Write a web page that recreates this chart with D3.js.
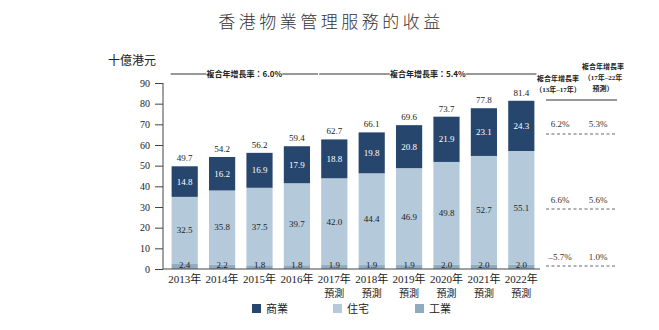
<!DOCTYPE html>
<html>
<head>
<meta charset="utf-8">
<script src="https://cdn.jsdelivr.net/npm/d3@7"></script>
<style>
body { margin: 0; background: #fff; }
svg text { font-family: "Liberation Serif", "Noto Sans CJK TC", serif; }
.cjk { font-family: "Noto Sans CJK TC", sans-serif; }
</style>
</head>
<body>
<div id="chart"></div>
<script>
var years = ["2013年","2014年","2015年","2016年","2017年","2018年","2019年","2020年","2021年","2022年"];
var forecast = [false,false,false,false,true,true,true,true,true,true];
var industrial = [2.4,2.2,1.8,1.8,1.9,1.9,1.9,2.0,2.0,2.0];
var residential = [32.5,35.8,37.5,39.7,42.0,44.4,46.9,49.8,52.7,55.1];
var commercial = [14.8,16.2,16.9,17.9,18.8,19.8,20.8,21.9,23.1,24.3];
var totals = [49.7,54.2,56.2,59.4,62.7,66.1,69.6,73.7,77.8,81.4];
var yTicks = [0,10,20,30,40,50,60,70,80,90];
var seriesNames = ["商業","住宅","工業"];
var cagr1317 = ["6.2%","6.6%","–5.7%"];
var cagr1722 = ["5.3%","5.6%","1.0%"];

var colors = {"商業":"#27466d","住宅":"#b4cadb","工業":"#8eabc0"};

var svg = d3.select("#chart").append("svg")
  .attr("width", 659).attr("height", 330);

// title
svg.append("text").attr("class","cjk")
  .attr("x", 331).attr("y", 28)
  .attr("text-anchor","middle")
  .attr("font-size", 17)
  .attr("font-weight", 300)
  .attr("letter-spacing", 3.5)
  .attr("fill", "#333")
  .text("香港物業管理服務的收益");

svg.append("text").attr("class","cjk")
  .attr("x", 108).attr("y", 65)
  .attr("font-size", 12)
  .attr("fill", "#222")
  .text("十億港元");

var x = d3.scaleBand().domain(years).range([166, 540])
  .paddingInner(0.3).paddingOuter(0.15);
var y = d3.scaleLinear().domain([0, 90]).range([269, 83]);

// y axis
var yAxis = svg.append("g").attr("transform","translate(163,0)")
  .call(d3.axisLeft(y).tickValues(yTicks).tickSize(8).tickPadding(5));
yAxis.select(".domain").attr("d", "M0," + y(90) + "V" + y(0)).attr("stroke","#444");
yAxis.selectAll(".tick line").attr("stroke","#444");
yAxis.selectAll("text").attr("font-size", 10).attr("fill","#222")
  .style("font-family","Liberation Serif");

// stacked bars
var rows = years.map(function(d, i) {
  return {year: d, "工業": industrial[i], "住宅": residential[i], "商業": commercial[i]};
});
var stack = d3.stack().keys(["工業","住宅","商業"])(rows);

svg.selectAll("g.layer").data(stack).enter().append("g")
  .attr("class","layer")
  .attr("fill", function(d) { return colors[d.key]; })
  .selectAll("rect").data(function(d) { return d; }).enter().append("rect")
  .attr("x", function(d) { return x(d.data.year); })
  .attr("y", function(d) { return y(d[1]); })
  .attr("width", x.bandwidth())
  .attr("height", function(d) { return y(d[0]) - y(d[1]); });

// x axis line
svg.append("line").attr("x1",163).attr("x2",540)
  .attr("y1", y(0)).attr("y2", y(0)).attr("stroke","#444");

var lbl = svg.append("g").attr("font-size", 9).attr("text-anchor","middle");
years.forEach(function(yr, i) {
  var cx = x(yr) + x.bandwidth() / 2;
  lbl.append("text").attr("x", cx).attr("y", y(totals[i]) - 5)
    .attr("fill","#222").text(totals[i].toFixed(1));
  lbl.append("text").attr("x", cx)
    .attr("y", y(industrial[i] + residential[i] + commercial[i] / 2) + 3)
    .attr("fill","#fff").text(commercial[i].toFixed(1));
  lbl.append("text").attr("x", cx)
    .attr("y", y(industrial[i] + residential[i] / 2) + 3)
    .attr("fill","#222").text(residential[i].toFixed(1));
  lbl.append("text").attr("x", cx).attr("y", y(0) - 1)
    .attr("fill","#222").text(industrial[i].toFixed(1));
  // x labels
  svg.append("text").attr("x", cx).attr("y", 283)
    .attr("text-anchor","middle").attr("font-size", 11).attr("fill","#222")
    .text(yr);
  if (forecast[i]) {
    svg.append("text").attr("class","cjk").attr("x", cx).attr("y", 297)
      .attr("text-anchor","middle").attr("font-size", 10).attr("fill","#222")
      .text("預測");
  }
});

// CAGR headers over bars
function cagrHeader(x1, x2, label) {
  var mid = (x1 + x2) / 2;
  var half = 38;
  svg.append("line").attr("x1", x1).attr("x2", mid - half)
    .attr("y1", 74).attr("y2", 74).attr("stroke","#333");
  svg.append("line").attr("x1", mid + half).attr("x2", x2)
    .attr("y1", 74).attr("y2", 74).attr("stroke","#333");
  svg.append("text").attr("class","cjk").attr("x", mid).attr("y", 77)
    .attr("text-anchor","middle").attr("font-size", 8).attr("font-weight","bold")
    .attr("fill","#222").text(label);
}
cagrHeader(x(years[0]) - 1, x(years[3]) + x.bandwidth() + 8, "複合年增長率：6.0%");
cagrHeader(x(years[4]) - 2, x(years[9]) + x.bandwidth() + 2, "複合年增長率：5.4%");

// right table
var colA = 558, colB = 603;
var hdr = svg.append("g").attr("class","cjk").attr("font-size", 7)
  .attr("font-weight","bold").attr("text-anchor","middle").attr("fill","#222");
hdr.append("text").attr("x", colA).attr("y", 81).text("複合年增長率");
hdr.append("text").attr("x", colA).attr("y", 92).text("（13年–17年）");
hdr.append("text").attr("x", colB).attr("y", 69).text("複合年增長率");
hdr.append("text").attr("x", colB).attr("y", 80).text("（17年–22年");
hdr.append("text").attr("x", colB).attr("y", 91).text("預測）");
svg.append("line").attr("x1", 546).attr("x2", 617)
  .attr("y1", 100).attr("y2", 100).attr("stroke","#333");

var rowText = [127, 203, 260];
var rowLine = [134, 209, 266];
var valA = 560, valB = 598;
[0,1,2].forEach(function(k) {
  svg.append("text").attr("x", valA).attr("y", rowText[k])
    .attr("text-anchor","middle").attr("font-size", 9).attr("fill","#333").text(cagr1317[k]);
  svg.append("text").attr("x", valB).attr("y", rowText[k])
    .attr("text-anchor","middle").attr("font-size", 9).attr("fill","#333").text(cagr1722[k]);
  svg.append("line").attr("x1", 546).attr("x2", 617)
    .attr("y1", rowLine[k]).attr("y2", rowLine[k])
    .attr("stroke","#666").attr("stroke-dasharray","3,2.5");
});

// legend
var legX = [252, 333, 415];
seriesNames.forEach(function(n, i) {
  svg.append("rect").attr("x", legX[i]).attr("y", 304).attr("width", 9).attr("height", 9)
    .attr("fill", colors[n]);
  svg.append("text").attr("class","cjk").attr("x", legX[i] + 14).attr("y", 313)
    .attr("font-size", 11).attr("fill","#222").text(n);
});
</script>
</body>
</html>
